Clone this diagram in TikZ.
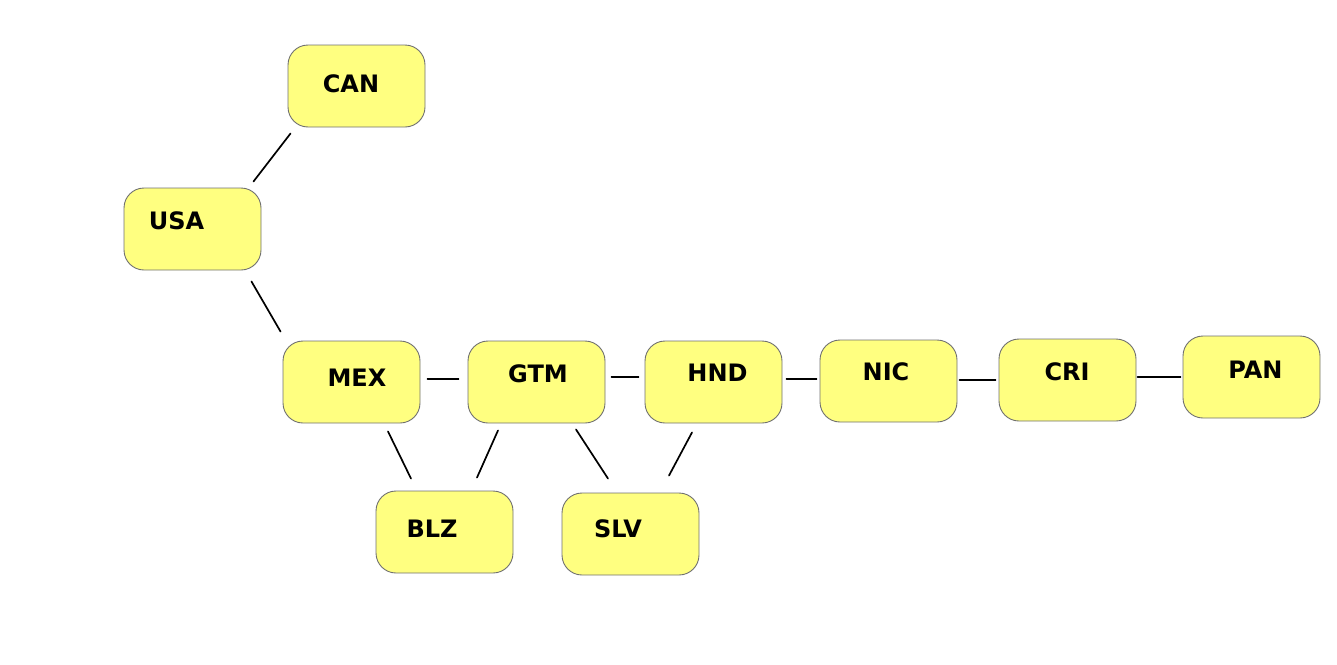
\documentclass[tikz,border=0pt]{standalone}
\usepackage{fontspec}
\setmainfont{DejaVu Sans}
\definecolor{boxfill}{HTML}{FFFF80}
\definecolor{boxline}{HTML}{707070}
\begin{document}
\begin{tikzpicture}[x=1pt,y=-1pt,line join=round,line cap=round]
	\tikzset{country/.style={draw=boxline,fill=boxfill,rounded corners=20pt,line width=0.9pt,minimum width=137pt,minimum height=82pt,inner sep=0pt},
		lbl/.style={font=\fontsize{24}{28}\selectfont\bfseries,inner sep=0pt},
		link/.style={line width=1.7pt}}
	\useasboundingbox (0,0) rectangle (1337,664);
	\node[country,label={[lbl,xshift=-5.5pt,yshift=2pt]center:CAN}] (can) at (356.5,86) {};
	\node[country,label={[lbl,xshift=-16pt,yshift=8pt]center:USA}] (usa) at (192.5,229) {};
	\node[country,label={[lbl,xshift=5.5pt,yshift=4pt]center:MEX}] (mex) at (351.5,382) {};
	\node[country,label={[lbl,xshift=1.5pt,yshift=8pt]center:GTM}] (gtm) at (536.5,382) {};
	\node[country,label={[lbl,xshift=4pt,yshift=9pt]center:HND}] (hnd) at (713.5,382) {};
	\node[country,label={[lbl,xshift=-2.5pt,yshift=9pt]center:NIC}] (nic) at (888.5,381) {};
	\node[country,label={[lbl,xshift=-0.5pt,yshift=8pt]center:CRI}] (cri) at (1067.5,380) {};
	\node[country,label={[lbl,xshift=4pt,yshift=7pt]center:PAN}] (pan) at (1251.5,377) {};
	\node[country,label={[lbl,xshift=-12.5pt,yshift=3pt]center:BLZ}] (blz) at (444.5,532) {};
	\node[country,label={[lbl,xshift=-12.5pt,yshift=5pt]center:SLV}] (slv) at (630.5,534) {};
	% borders
	\draw[link] ([shift={(-8,-6)}]usa.north east) -- ([shift={(3,6)}]can.south west);
	\draw[link] ([shift={(-10,11)}]usa.south east) -- ([shift={(-2,-9)}]mex.north west);
	\draw[link] ([shift={(7,-3)}]mex.east) -- ([shift={(-9,-3)}]gtm.west);
	\draw[link] ([shift={(6,-5)}]gtm.east) -- ([shift={(-6,-5)}]hnd.west);
	\draw[link] ([shift={(4,-3)}]hnd.east) -- ([shift={(-3,-2)}]nic.west);
	\draw[link] ([shift={(2,-1)}]nic.east) -- ([shift={(-3,0)}]cri.west);
	\draw[link] ([shift={(1,-3)}]cri.east) -- ([shift={(-2,0)}]pan.west);
	\draw[link] ([shift={(36.5,8)}]mex.south) -- ([shift={(-33.5,-12)}]blz.north);
	\draw[link] ([shift={(-38.5,7)}]gtm.south) -- ([shift={(32.5,-13)}]blz.north);
	\draw[link] ([shift={(39.5,6)}]gtm.south) -- ([shift={(-22.5,-14)}]slv.north);
	\draw[link] ([shift={(-21.5,9)}]hnd.south) -- ([shift={(38.5,-17)}]slv.north);
\end{tikzpicture}
\end{document}
